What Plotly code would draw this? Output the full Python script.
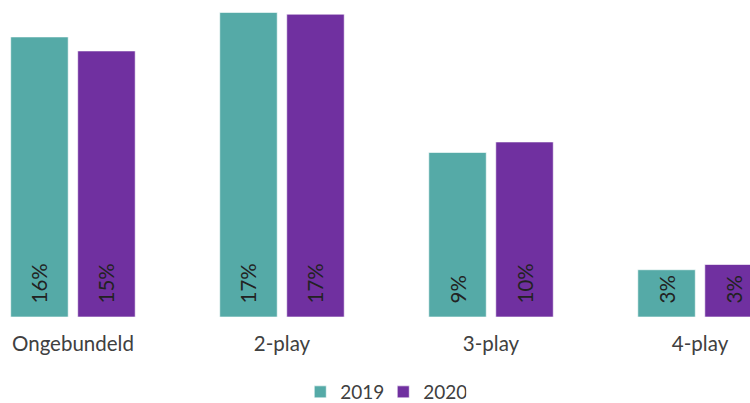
import plotly.graph_objects as go

categories = ["Ongebundeld", "2-play", "3-play", "4-play"]
series_names = ["2019", "2020"]
values_2019 = [16.0, 17.4, 9.4, 2.7]
values_2020 = [15.2, 17.3, 10.0, 3.0]
labels_2019 = ["16%", "17%", "9%", "3%"]
labels_2020 = ["15%", "17%", "10%", "3%"]
colors = ["#55AAA7", "#7030A0"]

FONT = "Lato, Open Sans, sans-serif"

fig = go.Figure()
for name, vals, labs, col in zip(series_names, [values_2019, values_2020],
                                 [labels_2019, labels_2020], colors):
    fig.add_trace(go.Bar(
        x=categories, y=vals, name=name, text=labs,
        texttemplate="\u00a0\u00a0%{text}",
        textposition="inside", insidetextanchor="start", textangle=-90,
        constraintext="none",
        textfont=dict(family=FONT, size=20.5, color="#222222"),
        marker=dict(color=col, line=dict(color="rgba(255,255,255,0.6)", width=1)),
    ))

fig.update_layout(
    width=750, height=403,
    margin=dict(l=0, r=0, t=0, b=86),
    paper_bgcolor="white", plot_bgcolor="white",
    barmode="group", bargap=0.359, bargroupgap=0.142,
    font=dict(family=FONT, color="#404040"),
    xaxis=dict(range=[-0.349, 3.239], showgrid=False, showline=False, zeroline=False,
               ticks="outside", ticklen=8, tickcolor="rgba(0,0,0,0)",
               tickfont=dict(size=20.5, color="#404040"), automargin=False),
    yaxis=dict(range=[0, 18.11], visible=False, automargin=False),
    legend=dict(orientation="h", x=0.511, xanchor="center",
                yref="container", y=0.0273, yanchor="middle",
                font=dict(size=19, color="#404040"), itemwidth=30,
                entrywidth=38, traceorder="normal"),
    showlegend=True,
)

fig.write_html(
    "out.html",
    config={"displayModeBar": False},
    post_script="document.body.style.margin='0';document.body.style.overflow='hidden';",
)
